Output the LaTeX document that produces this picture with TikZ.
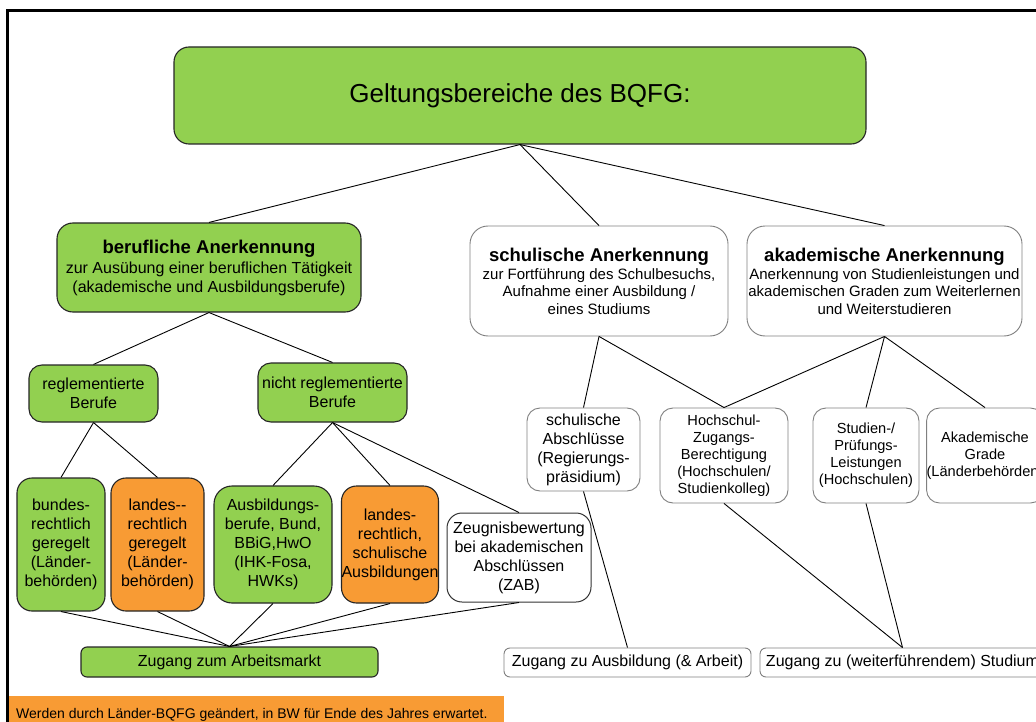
\documentclass[tikz,border=0pt]{standalone}
\usepackage{fontspec}
\setmainfont{Liberation Sans}
\definecolor{bgreen}{RGB}{146,208,80}
\definecolor{borange}{RGB}{248,155,52}
\newcommand{\myfs}[2]{\fontsize{#1}{#2}\selectfont}
\begin{document}
\begin{tikzpicture}[x=1pt,y=-1pt,
  gbox/.style={rectangle, rounded corners=13pt, draw=black!85, line width=1.1pt, fill=bgreen, align=center, inner sep=0pt, font=\myfs{16}{19}},
  obox/.style={gbox, fill=borange},
  wbox/.style={rectangle, rounded corners=13pt, draw=black!50, line width=0.9pt, fill=white, align=center, inner sep=0pt, font=\myfs{16}{19}},
  small/.style={font=\myfs{14.6}{17}},
  conn/.style={draw=black, line width=0.9pt}]
\useasboundingbox (0,0) rectangle (1036,722);
\fill[white] (0,0) rectangle (1036,722);
% slide frame
\draw[line width=3pt] (7.5,760) -- (7.5,10.5) -- (1100,10.5);
% footer
\fill[borange] (9,696) rectangle (504,740);
\node[anchor=base west, inner sep=0pt, font=\myfs{14}{17}] (foot) at (16,718) {Werden durch Länder-BQFG geändert, in BW für Ende des Jahres erwartet.};

% level 0
\node[gbox, rounded corners=15pt, minimum width=692pt, minimum height=97pt, font=\myfs{26}{31}] (top) at (520,95.5) {Geltungsbereiche des BQFG:};

% level 1
\node[gbox, rounded corners=16pt, minimum width=304pt, minimum height=89pt] (beruf) at (209,267.5)
  {{\myfs{18.5}{21}\bfseries berufliche Anerkennung}\\[1pt]zur Ausübung einer beruflichen Tätigkeit\\(akademische und Ausbildungsberufe)};
\node[wbox, rounded corners=18pt, minimum width=258pt, minimum height=110pt, font=\myfs{15}{17.3}] (schul) at (599,281)
  {{\myfs{18.5}{21}\bfseries schulische Anerkennung}\\[1pt]zur Fortführung des Schulbesuchs,\\Aufnahme einer Ausbildung /\\eines Studiums};
\node[wbox, rounded corners=18pt, minimum width=275pt, minimum height=110pt, font=\myfs{15}{17.3}] (akad) at (884.5,281)
  {{\myfs{18.5}{21}\bfseries akademische Anerkennung}\\[1pt]Anerkennung von Studienleistungen und\\akademischen Graden zum Weiterlernen\\und Weiterstudieren};

% level 2 left
\node[gbox, minimum width=129pt, minimum height=57pt] (regl) at (93.5,393.5) {reglementierte\\Berufe};
\node[gbox, minimum width=149pt, minimum height=59pt] (nicht) at (332.5,392.5) {nicht reglementierte\\Berufe};

% level 3 left
\node[gbox, rounded corners=15pt, minimum width=88pt, minimum height=133pt] (bundes) at (61,544.5) {bundes-\\rechtlich\\geregelt\\(Länder-\\behörden)};
\node[obox, rounded corners=15pt, minimum width=93pt, minimum height=133pt] (landes2) at (157.5,544.5) {landes-{}-\\rechtlich\\geregelt\\(Länder-\\behörden)};
\node[gbox, rounded corners=18pt, minimum width=118pt, minimum height=117pt] (ausb) at (273,544.5) {Ausbildungs-\\berufe, Bund,\\BBiG,HwO\\(IHK-Fosa,\\HWKs)};
\node[obox, rounded corners=15pt, minimum width=96pt, minimum height=117pt] (landesr) at (390,544.5) {landes-\\rechtlich,\\schulische\\Ausbildungen};
\node[wbox, rounded corners=15pt, draw=black!80, line width=1pt, minimum width=144pt, minimum height=89pt] (zeugnis) at (519,557.5) {Zeugnisbewertung\\bei akademischen\\Abschlüssen\\(ZAB)};

% level 2 right
\node[wbox, minimum width=113pt, minimum height=83pt] (sabschl) at (583.5,449.5) {schulische\\Abschlüsse\\(Regierungs-\\präsidium)};
\node[wbox, small, minimum width=128pt, minimum height=95pt] (hochschul) at (724,455.5) {Hochschul-\\Zugangs-\\Berechtigung\\(Hochschulen/\\Studienkolleg)};
\node[wbox, small, minimum width=106pt, minimum height=95pt] (studien) at (866,455.5) {Studien-/\\Prüfungs-\\Leistungen\\(Hochschulen)};
\node[wbox, small, minimum width=116pt, minimum height=95pt] (grade) at (985,455.5) {Akademische\\Grade\\(Länderbehörden)};

% bottom
\node[gbox, rounded corners=6pt, minimum width=297pt, minimum height=30pt] (arbeit) at (229.5,662) {Zugang zum Arbeitsmarkt};
\node[wbox, rounded corners=6pt, minimum width=247pt, minimum height=29pt] (zausb) at (627.5,662.5) {Zugang zu Ausbildung (\& Arbeit)};
\node[wbox, rounded corners=6pt, minimum width=285pt, minimum height=29pt] (zstud) at (902.5,662.5) {Zugang zu (weiterführendem) Studium};

% connectors
\draw[conn] (top.south) -- (beruf.north);
\draw[conn] (top.south) -- (schul.north);
\draw[conn] (top.south) -- (akad.north);
\draw[conn] (beruf.south) -- (regl.north);
\draw[conn] (beruf.south) -- (nicht.north);
\draw[conn] (regl.south) -- (bundes.north);
\draw[conn] (regl.south) -- (landes2.north);
\draw[conn] (nicht.south) -- (ausb.north);
\draw[conn] (nicht.south) -- (landesr.north);
\draw[conn] (nicht.south) -- (zeugnis.north);
\foreach \n in {bundes,landes2,ausb,landesr,zeugnis}
  \draw[conn] (\n.south) -- (arbeit.north);
\draw[conn] (schul.south) -- (sabschl.north);
\draw[conn] (schul.south) -- (hochschul.north);
\draw[conn] (akad.south) -- (hochschul.north);
\draw[conn] (akad.south) -- (studien.north);
\draw[conn] (akad.south) -- (grade.north);
\draw[conn] (sabschl.south) -- (zausb.north);
\draw[conn] (hochschul.south) -- (zstud.north);
\draw[conn] (studien.south) -- (zstud.north);
\end{tikzpicture}
\end{document}
